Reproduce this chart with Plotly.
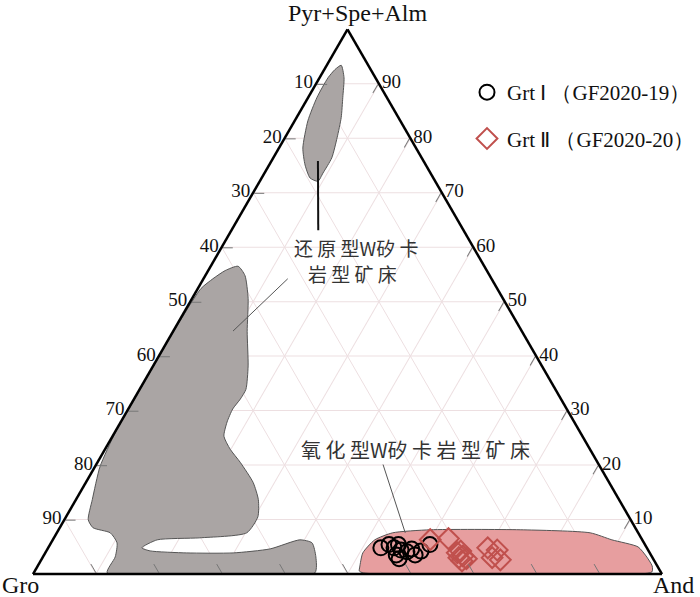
import plotly.graph_objects as go

# ---------------- data (percent) ----------------
# a = Pyr+Spe+Alm, c = And, b = Gro (= remainder, via sum=100)
grt1_psa = [4.8, 5.4, 4.8, 5.4, 4.4, 3.5, 2.8, 4.1, 4.6, 3.5, 4.2, 5.4]
grt1_and = [52.9, 53.9, 55.0, 55.4, 56.3, 56.0, 56.8, 57.4, 57.9, 59.0, 59.6, 60.4]

grt2_psa = [6.3, 6.5, 3.9, 4.2, 3.3, 3.0, 2.8, 2.4, 4.8, 4.4, 3.0, 2.6]
grt2_and = [60.0, 62.8, 65.5, 65.9, 66.7, 66.2, 67.5, 67.0, 69.9, 71.6, 71.5, 73.0]

# reduced W skarn field (upper small field)
red1_psa = [93.4, 91.1, 87.5, 83.8, 80.1, 76.4, 73.6, 72.1, 72.7, 75.1, 78.2, 83.2, 87.5, 91.1, 92.6, 93.4]
red1_and = [2.3, 3.9, 5.5, 7.1, 8.3, 9.3, 9.3, 9.25, 7.7, 5.7, 3.8, 2.1, 1.4, 1.35, 1.7, 2.3]

# reduced W skarn field (large lower-left field)
red2_psa = [56.5, 54.8, 50.6, 44.5, 38.2, 33.9, 32.1, 30.3, 27.9, 25.3, 22.9, 20.5, 16.8, 13.65,
            10.5, 7.56, 6.64, 6.27, 4.8, 4.24, 3.87, 3.87, 4.61, 6.27, 5.72, 3.14, 0.2, 0.2,
            3.14, 5.72, 7.56, 8.49, 9.96, 13.65, 19.7, 26.0, 32.1, 45.0, 52.4, 54.2, 55.7, 56.5]
red2_and = [4.35, 6.3, 8.9, 11.8, 15.1, 16.9, 16.9, 16.6, 16.9, 17.7, 19.9, 22.7, 26.6, 29.0,
            30.5, 30.2, 23.2, 16.6, 14.9, 16.5, 22.5, 29.9, 35.4, 39.3, 41.5, 43.4, 44.7, 11.7,
            11.5, 10.5, 8.5, 5.3, 3.8, 2.6, 0.8, 0.1, 0.1, 0.1, 0.5, 1.5, 2.7, 4.35]

# oxidized W skarn field
oxi_psa = [1.29, 3.87, 6.27, 7.56, 8.12, 8.12, 7.56, 6.27, 4.98, 3.32, 1.48, 0.37, 0.2, 0.55, 1.29]
oxi_and = [51.3, 50.5, 51.2, 53.4, 59.1, 73.4, 84.8, 88.9, 93.7, 95.8, 97.7, 98.2, 52.4, 51.6, 51.3]

# leader lines
lead1_psa = [75.8, 63.1]
lead1_and = [7.4, 13.8]
lead2_psa = [54.2, 44.6]
lead2_and = [13.4, 9.5]
lead3_psa = [20.1, 7.56]
lead3_and = [45.6, 55.4]

tick_vals = [10, 20, 30, 40, 50, 60, 70, 80, 90]
tick_text_rev = ["90", "80", "70", "60", "50", "40", "30", "20", "10"]

SERIF = "Liberation Serif, Times New Roman, serif"
CJK = "Noto Sans CJK SC, sans-serif"

fig = go.Figure()

def field(a, c, fill, line):
    fig.add_trace(go.Scatterternary(
        a=a, c=c, sum=100, mode="lines", fill="toself", fillcolor=fill,
        line=dict(color=line, width=1, shape="spline", smoothing=0.6),
        hoverinfo="skip", showlegend=False))

field(red1_psa, red1_and, "#aaa5a4", "#555555")
field(red2_psa, red2_and, "#aaa5a4", "#555555")
field(oxi_psa, oxi_and, "#e79e9f", "#555555")

def lead(a, c, color, w):
    fig.add_trace(go.Scatterternary(
        a=a, c=c, sum=100, mode="lines", line=dict(color=color, width=w),
        hoverinfo="skip", showlegend=False))

lead(lead1_psa, lead1_and, "#111111", 2)
lead(lead2_psa, lead2_and, "#555555", 1)
lead(lead3_psa, lead3_and, "#555555", 1)

fig.add_trace(go.Scatterternary(
    a=grt1_psa, c=grt1_and, sum=100, mode="markers",
    name="Grt Ⅰ （GF2020-19）", legendgroup="g1",
    marker=dict(symbol="circle-open", size=15, color="#000000", line=dict(width=2))))
fig.add_trace(go.Scatterternary(
    a=grt2_psa, c=grt2_and, sum=100, mode="markers",
    name="Grt Ⅱ （GF2020-20）", legendgroup="g2",
    marker=dict(symbol="diamond-open", size=16, color="#c0504d", line=dict(width=2))))

axis_common = dict(
    tickmode="array", tickvals=tick_vals, ticks="inside", ticklen=10,
    tickcolor="#777777", tickwidth=1, linecolor="#000000", linewidth=2.5,
    gridcolor="#eddfe1", gridwidth=1, showgrid=True, min=0,
    tickfont=dict(family=SERIF, size=19, color="#111111"), title=dict(text=""))

fig.update_layout(
    width=700, height=597,
    margin=dict(l=0, r=0, t=0, b=0),
    paper_bgcolor="white",
    ternary=dict(
        sum=100, bgcolor="white",
        domain=dict(x=[33 / 700, 662 / 700], y=[23 / 597, (23 + 544.7) / 597]),
        aaxis=dict(axis_common, ticktext=tick_text_rev),
        baxis=dict(axis_common, ticktext=[""] * 9, showticklabels=False),
        caxis=dict(axis_common, ticktext=tick_text_rev),
    ),
    legend=dict(x=467 / 700, y=1 - 72 / 597, xanchor="left", yanchor="top",
                font=dict(family=SERIF, size=21, color="#111111"),
                tracegroupgap=16, bgcolor="rgba(0,0,0,0)"),
    showlegend=True,
)

annos = [
    dict(text="Pyr+Spe+Alm", x=357 / 700, y=1 - 13 / 597, size=24, fam=SERIF, col="#111111"),
    dict(text="Gro", x=20 / 700, y=1 - 585 / 597, size=24, fam=SERIF, col="#111111"),
    dict(text="And", x=673 / 700, y=1 - 585 / 597, size=24, fam=SERIF, col="#111111"),
    dict(text="还 原 型W矽 卡", x=356 / 700, y=1 - 247 / 597, size=19, fam=CJK, col="#333333"),
    dict(text="岩 型 矿 床", x=352 / 700, y=1 - 273 / 597, size=19, fam=CJK, col="#333333"),
    dict(text="氧 化 型W矽 卡 岩 型 矿 床", x=415 / 700, y=1 - 449 / 597, size=20, fam=CJK, col="#333333"),
]
for an in annos:
    fig.add_annotation(text=an["text"], x=an["x"], y=an["y"], xref="paper", yref="paper",
                       showarrow=False, xanchor="center", yanchor="middle",
                       font=dict(family=an["fam"], size=an["size"], color=an["col"]))

fig.write_html("out.html", config={"displayModeBar": False},
               post_script="document.body.style.margin='0px';")
